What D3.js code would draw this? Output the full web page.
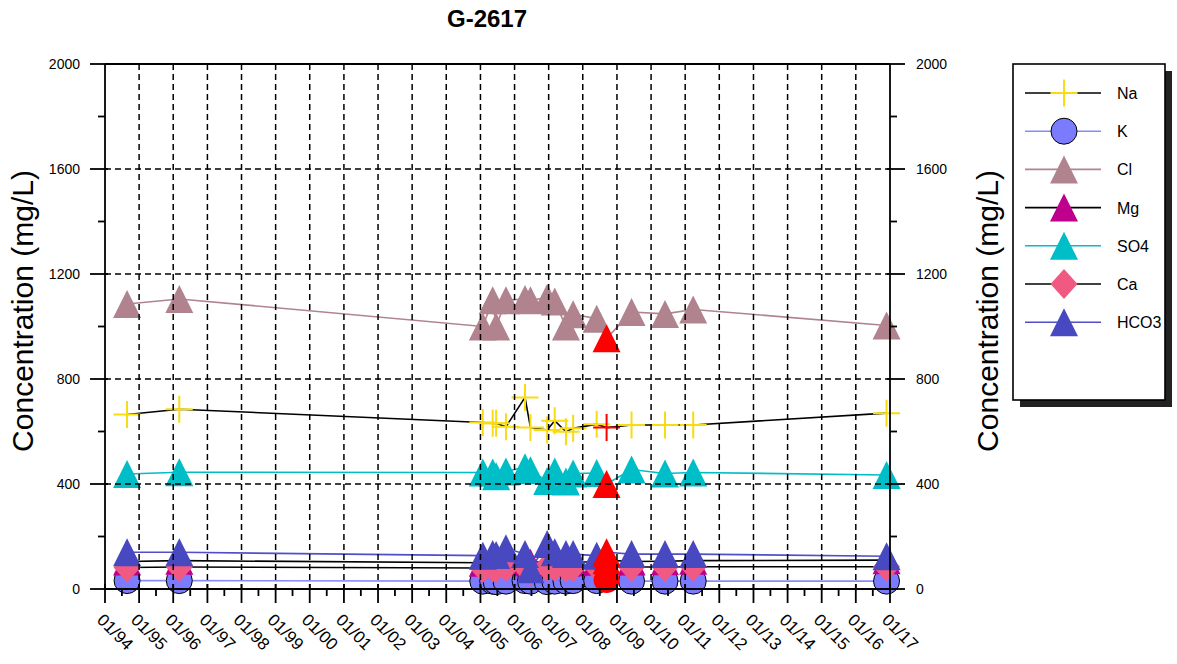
<!DOCTYPE html>
<html>
<head>
<meta charset="utf-8">
<script src="https://cdn.jsdelivr.net/npm/d3@7"></script>
<style>
  html, body { margin: 0; padding: 0; background: #ffffff; }
  svg { display: block; font-family: Arial, "Liberation Sans", sans-serif; }
</style>
</head>
<body>
<svg id="chart" width="1177" height="664"></svg>
<script>
// ---- Sampling record for well G-2617 ----
const sampleDates = [
  "1994-08-25", "1996-03-06",
  "2005-01-26", "2005-05-12", "2005-06-18", "2005-10-01",
  "2006-04-23", "2006-06-20", "2006-12-16", "2007-03-07",
  "2007-07-05", "2007-09-20", "2008-05-29", "2008-09-12",
  "2009-06-06", "2010-05-30", "2011-03-28", "2016-11-25"
];
// sample shown in red
const flaggedDate = "2008-09-12";

// concentrations in mg/L, one value per sample date
const naValues   = [665, 685, 634, 631, 631, 618, 730, 615, 606, 641, 599, 612, 628, 615, 625, 625, 625, 670];
const kValues    = [32, 32, 30, 30, 28, 30, 32, 30, 28, 30, 30, 32, 32, 34, 30, 30, 30, 30];
const clValues   = [1086, 1105, 1000, 1100, 1000, 1100, 1105, 1100, 1110, 1095, 1000, 1047, 1030, 955, 1055, 1048, 1065, 1004];
const mgValues   = [105, 108, 100, 102, 100, 105, 104, 100, 106, 104, 100, 102, 104, 110, 105, 106, 108, 110];
const so4Values  = [438, 445, 444, 444, 430, 448, 464, 452, 411, 448, 410, 440, 442, 400, 455, 440, 444, 434];
const caValues   = [82, 84, 80, 82, 80, 84, 85, 70, 85, 84, 82, 84, 85, 90, 84, 84, 85, 85];
const hco3Values = [140, 140, 127, 133, 130, 155, 133, 75, 171, 140, 133, 133, 127, 140, 133, 133, 133, 125];

const seriesNames = ["Na", "K", "Cl", "Mg", "SO4", "Ca", "HCO3"];

// axis ticks
const yMajorTicks = [0, 400, 800, 1200, 1600, 2000];
const yMinorTicks = [200, 600, 1000, 1400, 1800];
const yGridValues = [400, 800, 1200, 1600];
const xYears = d3.range(1994, 2018);

// ---- styles ----
const styles = {
  Na:   { shape: "plus",     fill: "#f8dc12", line: "#000000" },
  K:    { shape: "circle",   fill: "#7b7bff", line: "#8a8aff" },
  Cl:   { shape: "triangle", fill: "#b0838f", line: "#b0838f" },
  Mg:   { shape: "triangle", fill: "#be008c", line: "#000000" },
  SO4:  { shape: "triangle", fill: "#00bec8", line: "#00bec8" },
  Ca:   { shape: "diamond",  fill: "#f05a82", line: "#000000" },
  HCO3: { shape: "triangle", fill: "#4848c0", line: "#4f4fc8" }
};
const flagColor = "#ff0000";

const valuesByName = {
  Na: naValues, K: kValues, Cl: clValues, Mg: mgValues,
  SO4: so4Values, Ca: caValues, HCO3: hco3Values
};

const parseDate = d3.timeParse("%Y-%m-%d");
const dates = sampleDates.map(parseDate);
const series = seriesNames.map(name => ({
  name,
  style: styles[name],
  points: dates.map((d, i) => ({ date: d, value: valuesByName[name][i], flagged: sampleDates[i] === flaggedDate }))
}));

// ---- layout ----
const plot = { left: 105, right: 890, top: 64, bottom: 589 };
const svg = d3.select("#chart");

const x = d3.scaleTime()
  .domain([new Date(1994, 0, 1), new Date(2017, 0, 1)])
  .range([plot.left, plot.right]);
const y = d3.scaleLinear()
  .domain([0, 2000])
  .range([plot.bottom, plot.top]);

// marker path generators (centred on the point)
function markerPath(shape) {
  const w = 28, h = 28;
  if (shape === "triangle") return `M0,${-h/2}L${w/2},${h/2}L${-w/2},${h/2}Z`;
  if (shape === "diamond")  return `M0,-15L13.5,0L0,15L-13.5,0Z`;
  if (shape === "plus")     return `M-13.5,0H13.5M0,-13.5V13.5`;
  return null;
}
function drawMarker(g, shape, cx, cy, color, outline) {
  if (shape === "circle") {
    g.append("circle").attr("cx", cx).attr("cy", cy).attr("r", 13)
      .attr("fill", color)
      .attr("stroke", outline ? "#000" : "none").attr("stroke-width", 1);
  } else if (shape === "plus") {
    g.append("path").attr("d", markerPath(shape))
      .attr("transform", `translate(${cx},${cy})`)
      .attr("fill", "none").attr("stroke", color).attr("stroke-width", 2);
  } else {
    g.append("path").attr("d", markerPath(shape))
      .attr("transform", `translate(${cx},${cy})`)
      .attr("fill", color);
  }
}

// ---- series lines ----
const lineGen = d3.line().x(d => x(d.date)).y(d => y(d.value));
const linesG = svg.append("g");
series.forEach(s => {
  linesG.append("path")
    .datum(s.points)
    .attr("d", lineGen)
    .attr("fill", "none")
    .attr("stroke", s.style.line)
    .attr("stroke-width", 1.6);
});

// ---- markers ----
const markersG = svg.append("g");
series.forEach(s => {
  s.points.filter(p => !p.flagged).forEach(p => {
    drawMarker(markersG, s.style.shape, x(p.date), y(p.value), s.style.fill, true);
  });
});
series.forEach(s => {
  s.points.filter(p => p.flagged).forEach(p => {
    drawMarker(markersG, s.style.shape, x(p.date), y(p.value), flagColor, false);
  });
});

// ---- dashed grid (drawn over the data) ----
const gridG = svg.append("g")
  .attr("stroke", "#000").attr("stroke-width", 1.5).attr("stroke-dasharray", "6,4");
gridG.selectAll("line.v")
  .data(xYears.filter(yr => yr > 1994 && yr < 2017))
  .join("line")
  .attr("x1", yr => x(new Date(yr, 0, 1))).attr("x2", yr => x(new Date(yr, 0, 1)))
  .attr("y1", plot.top).attr("y2", plot.bottom);
gridG.selectAll("line.h")
  .data(yGridValues)
  .join("line")
  .attr("x1", plot.left).attr("x2", plot.right)
  .attr("y1", v => y(v)).attr("y2", v => y(v));

// ---- frame and axes ----
const axisG = svg.append("g").attr("stroke", "#000").attr("stroke-width", 1.8).attr("fill", "none");
axisG.append("line").attr("x1", plot.left).attr("x2", plot.right).attr("y1", plot.top).attr("y2", plot.top);
axisG.append("line").attr("x1", plot.left).attr("x2", plot.right).attr("y1", plot.bottom).attr("y2", plot.bottom);
axisG.append("line").attr("x1", plot.left).attr("x2", plot.left).attr("y1", plot.top).attr("y2", plot.bottom);
axisG.append("line").attr("x1", plot.right).attr("x2", plot.right).attr("y1", plot.top).attr("y2", plot.bottom);

// left / right y ticks
yMajorTicks.forEach(v => {
  axisG.append("line").attr("x1", plot.left - 15).attr("x2", plot.left + 3).attr("y1", y(v)).attr("y2", y(v));
  axisG.append("line").attr("x1", plot.right - 3).attr("x2", plot.right + 15).attr("y1", y(v)).attr("y2", y(v));
});
yMinorTicks.forEach(v => {
  axisG.append("line").attr("x1", plot.left - 7).attr("x2", plot.left).attr("y1", y(v)).attr("y2", y(v));
  axisG.append("line").attr("x1", plot.right).attr("x2", plot.right + 7).attr("y1", y(v)).attr("y2", y(v));
});
// bottom x ticks: yearly majors, mid-year minors
xYears.forEach(yr => {
  const px = x(new Date(yr, 0, 1));
  axisG.append("line").attr("x1", px).attr("x2", px).attr("y1", plot.bottom - 5).attr("y2", plot.bottom + 14);
  if (yr < 2017) {
    const mx = x(new Date(yr, 6, 1));
    axisG.append("line").attr("x1", mx).attr("x2", mx).attr("y1", plot.bottom).attr("y2", plot.bottom + 7);
  }
});

// tick labels
const textG = svg.append("g").attr("fill", "#000");
yMajorTicks.forEach(v => {
  textG.append("text").attr("x", 80).attr("y", y(v) + 5)
    .attr("text-anchor", "end").attr("font-size", 14).text(v);
  textG.append("text").attr("x", 916).attr("y", y(v) + 5)
    .attr("text-anchor", "start").attr("font-size", 14).text(v);
});
const fmt = d3.timeFormat("%m/%y");
xYears.forEach(yr => {
  const d = new Date(yr, 0, 1);
  const px = x(d) - 9, py = 621;
  textG.append("text")
    .attr("transform", `translate(${px},${py}) rotate(45)`)
    .attr("font-size", 17).text(fmt(d));
});

// axis titles and chart title
textG.append("text")
  .attr("transform", "translate(33,311) rotate(-90)")
  .attr("text-anchor", "middle").attr("font-size", 30).text("Concentration (mg/L)");
textG.append("text")
  .attr("transform", "translate(998,311) rotate(-90)")
  .attr("text-anchor", "middle").attr("font-size", 30).text("Concentration (mg/L)");
textG.append("text")
  .attr("x", 487).attr("y", 27)
  .attr("text-anchor", "middle").attr("font-size", 24).attr("font-weight", "bold").text("G-2617");

// ---- legend ----
const legend = { x: 1013, y: 64, w: 152, h: 336 };
const legG = svg.append("g");
legG.append("rect").attr("x", legend.x + 7).attr("y", legend.y + 7)
  .attr("width", legend.w).attr("height", legend.h).attr("fill", "#222");
legG.append("rect").attr("x", legend.x).attr("y", legend.y)
  .attr("width", legend.w).attr("height", legend.h)
  .attr("fill", "#fff").attr("stroke", "#000").attr("stroke-width", 1.6);
series.forEach((s, i) => {
  const ly = 93 + i * 38.2;
  legG.append("line").attr("x1", 1025).attr("x2", 1101).attr("y1", ly).attr("y2", ly)
    .attr("stroke", s.style.line).attr("stroke-width", 1.6);
  drawMarker(legG, s.style.shape, 1064, ly, s.style.fill, true);
  legG.append("text").attr("x", 1117).attr("y", ly + 6)
    .attr("font-size", 16).attr("fill", "#000").text(s.name);
});
</script>
</body>
</html>
